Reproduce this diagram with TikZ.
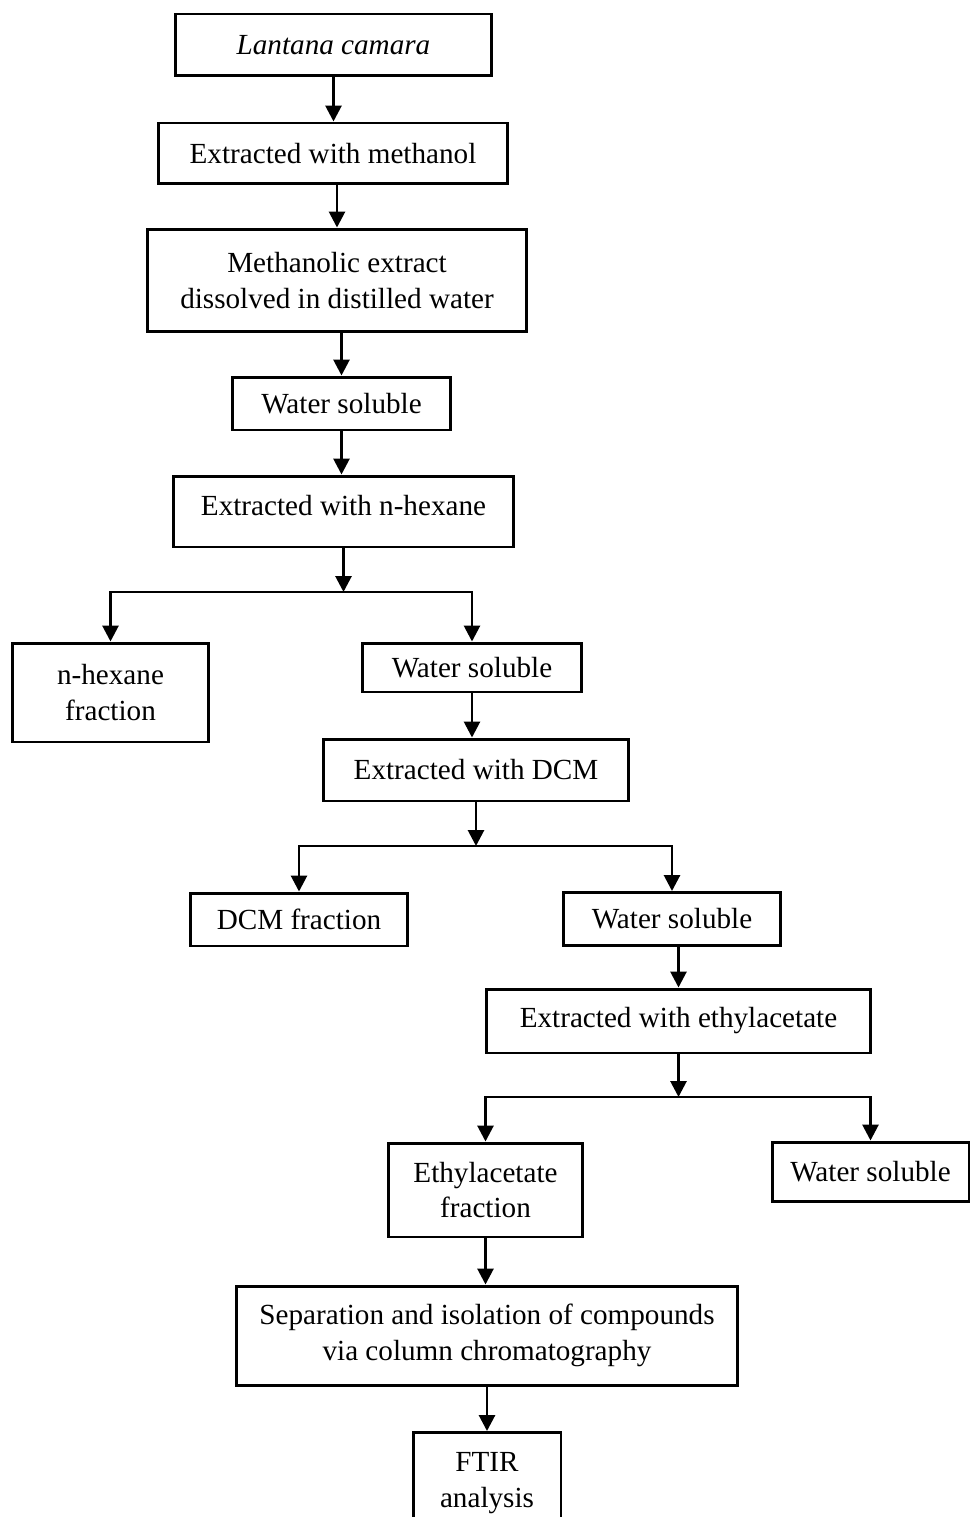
\documentclass[tikz,border=0pt]{standalone}
\usepackage{fontspec}
\setmainfont{Liberation Serif}
\usetikzlibrary{arrows.meta}

\tikzset{
  box/.style={draw, line width=1.7pt, inner sep=0pt, align=center, font=\fontsize{16.6}{20.2}\selectfont},
  arr/.style={-{Triangle[length=9pt,width=9pt]}, line width=1.6pt}
}

\begin{document}
\begin{tikzpicture}[x=0.02cm, y=-0.02cm]
	\useasboundingbox (0,0) rectangle (971,1517);

	\node[box, minimum width=6.34cm, minimum height=1.24cm] (lantana) at (333.5,45) {\textit{Lantana camara}};
	\node[box, minimum width=7.0cm, minimum height=1.22cm] (methanol) at (333,153.5) {Extracted with methanol};
	\node[box, minimum width=7.6cm, minimum height=2.06cm] (methext) at (337,280.5) {Methanolic extract\\dissolved in distilled water};
	\node[box, minimum width=4.38cm, minimum height=1.06cm] (water1) at (341.5,403.5) {Water soluble};
	\node[box, minimum width=6.82cm, text height=0.78cm, text depth=0.64cm] (hexane) at (343.5,511.5) {Extracted with n-hexane};

	\node[box, minimum width=3.94cm, minimum height=1.98cm] (hexfrac) at (110.5,692.5) {n-hexane\\fraction};
	\node[box, minimum width=4.4cm, minimum height=0.98cm] (water2) at (472,667.5) {Water soluble};
	\node[box, minimum width=6.12cm, minimum height=1.24cm] (dcm) at (476,770) {Extracted with DCM};

	\node[box, minimum width=4.36cm, minimum height=1.06cm] (dcmfrac) at (299,919.5) {DCM fraction};
	\node[box, minimum width=4.36cm, minimum height=1.06cm] (water3) at (672,919) {Water soluble};
	\node[box, minimum width=7.7cm, minimum height=1.28cm] (ethyl) at (678.5,1021) {Extracted with ethylacetate};

	\node[box, minimum width=3.9cm, minimum height=1.88cm] (eafrac) at (485.5,1190) {Ethylacetate\\fraction};
	\node[box, minimum width=3.94cm, minimum height=1.18cm] (water4) at (870.5,1171.5) {Water soluble};
	\node[box, minimum width=10.04cm, minimum height=1.98cm] (sep) at (487,1335.5) {Separation and isolation of compounds\\via column chromatography};
	\node[box, minimum width=2.96cm, minimum height=2.02cm] (ftir) at (487,1483) {FTIR\\analysis};

	\coordinate (split1) at (hexane.south |- 0,592);
	\coordinate (split2) at (dcm.south |- 0,846);
	\coordinate (split3) at (ethyl.south |- 0,1097);

	\draw[arr] (lantana.south) -- (lantana.south |- methanol.north);
	\draw[arr] (methext.north |- methanol.south) -- (methext.north);
	\draw[arr] (water1.north |- methext.south) -- (water1.north);
	\draw[arr] (water1.south) -- (water1.south |- hexane.north);

	\draw[arr] (hexane.south) -- (split1);
	\draw[arr] (split1) -| (hexfrac.north);
	\draw[arr] (split1) -| (water2.north);
	\draw[arr] (water2.south) -- (water2.south |- dcm.north);

	\draw[arr] (dcm.south) -- (split2);
	\draw[arr] (split2) -| (dcmfrac.north);
	\draw[arr] (split2) -| (water3.north);
	\draw[arr] (ethyl.north |- water3.south) -- (ethyl.north);

	\draw[arr] (ethyl.south) -- (split3);
	\draw[arr] (split3) -| (eafrac.north);
	\draw[arr] (split3) -| (water4.north);
	\draw[arr] (eafrac.south) -- (eafrac.south |- sep.north);
	\draw[arr] (sep.south) -- (sep.south |- ftir.north);
\end{tikzpicture}
\end{document}
